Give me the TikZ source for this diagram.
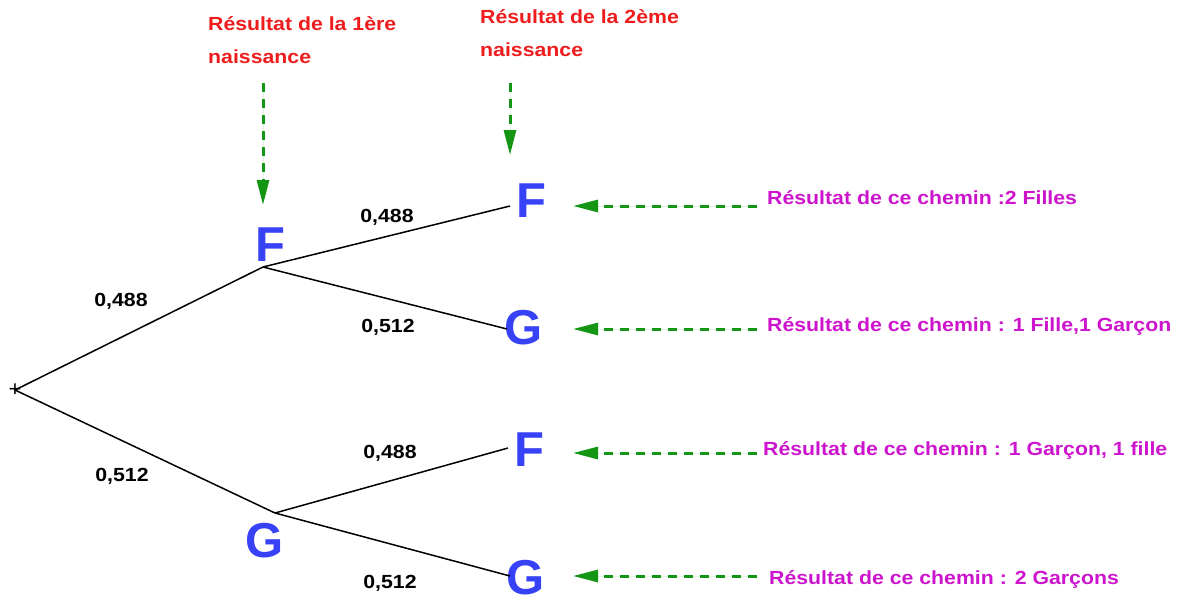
\documentclass[tikz,border=0pt]{standalone}
\usepackage{fontspec}
\setmainfont{Liberation Sans}
\newfontfamily\widefont[FakeStretch=1.12]{Liberation Sans}
\usetikzlibrary{positioning, arrows.meta}
\definecolor{lettre}{RGB}{55,65,245}
\definecolor{rouge}{RGB}{238,28,28}
\definecolor{violet}{RGB}{205,20,205}
\definecolor{vert}{RGB}{20,150,20}
\tikzset{%
  root/.style     = {inner sep = 0, font = \fontsize{22}{22}\selectfont},
  letter/.style   = {inner sep = 0, text = lettre,
    font = \bfseries\fontsize{49}{49}\selectfont}, % F or G
  branch/.style   = {line width = 1.5pt},
  prob/.style     = {inner sep = 0, anchor = base,
    font = \widefont\bfseries\fontsize{19}{19}\selectfont},
  heading/.style  = {inner sep = 0, anchor = base west, align = left, text = rouge,
    font = \widefont\bfseries\fontsize{19}{33}\selectfont},
  result/.style   = {inner sep = 0, anchor = base west, text = violet,
    font = \widefont\bfseries\fontsize{19}{19}\selectfont},
  pointer/.style  = {-{Triangle[length = 25pt, width = 12pt]}, draw = vert,
    fill = vert, line width = 3pt, dash pattern = on 9pt off 7pt}
}

\begin{document}
\begin{tikzpicture}[x = 1pt, y = -1pt]
\useasboundingbox (0,0) rectangle (1177,595);
%blocks
\draw
	(15,390) node [root] (r) {+}
	(270,245) node [letter] (F1) {F}
	(265,541) node [letter] (G1) {G}
	(531,201) node [letter] (FF) {F}
	(524,328) node [letter] (FG) {G}
	(529,450) node [letter] (GF) {F}
	(526,578) node [letter] (GG) {G};
%branch points
\coordinate (bF) at (263,267);
\coordinate (bG) at (275,513);
\coordinate (bFF) at (510,206);
\coordinate (bFG) at (507,329);
\coordinate (bGF) at (508,448);
\coordinate (bGG) at (510,576);
%lines
\draw[branch] (r.center) -- (bF);
\draw[branch] (r.center) -- (bG);
\draw[branch] (bF) -- (bFF);
\draw[branch] (bF) -- (bFG);
\draw[branch] (bG) -- (bGF);
\draw[branch] (bG) -- (bGG);
%probabilities
\draw
	(121,306) node [prob] (pF) {0,488}
	(122,481) node [prob] (pG) {0,512}
	(387,222) node [prob] (pFF) {0,488}
	(388,332) node [prob] (pFG) {0,512}
	(390,458) node [prob] (pGF) {0,488}
	(390,588) node [prob] (pGG) {0,512};
%headings
\draw
	(208,63) node [heading] (h1) {Résultat de la 1ère\\naissance}
	(480,56) node [heading] (h2) {Résultat de la 2ème\\naissance};
\coordinate (h1s) at (263,83);
\coordinate (h1e) at (263,205);
\coordinate (h2s) at (510,83);
\coordinate (h2e) at (510,155);
\draw[pointer] (h1s) -- (h1e);
\draw[pointer] (h2s) -- (h2e);
%results
\draw
	(767,204) node [result] (c1) {Résultat de ce chemin :2 Filles}
	(767,331) node [result] (c2) {Résultat de ce chemin : 1 Fille,1 Garçon}
	(763,455) node [result] (c3) {Résultat de ce chemin : 1 Garçon, 1 fille}
	(769,584) node [result] (c4) {Résultat de ce chemin : 2 Garçons};
\coordinate (c1s) at (757,206);
\coordinate (c1e) at (573,206);
\coordinate (c2s) at (757,329);
\coordinate (c2e) at (573,329);
\coordinate (c3s) at (757,453);
\coordinate (c3e) at (573,453);
\coordinate (c4s) at (757,576);
\coordinate (c4e) at (573,576);
\draw[pointer] (c1s) -- (c1e);
\draw[pointer] (c2s) -- (c2e);
\draw[pointer] (c3s) -- (c3e);
\draw[pointer] (c4s) -- (c4e);
\end{tikzpicture}
\end{document}
